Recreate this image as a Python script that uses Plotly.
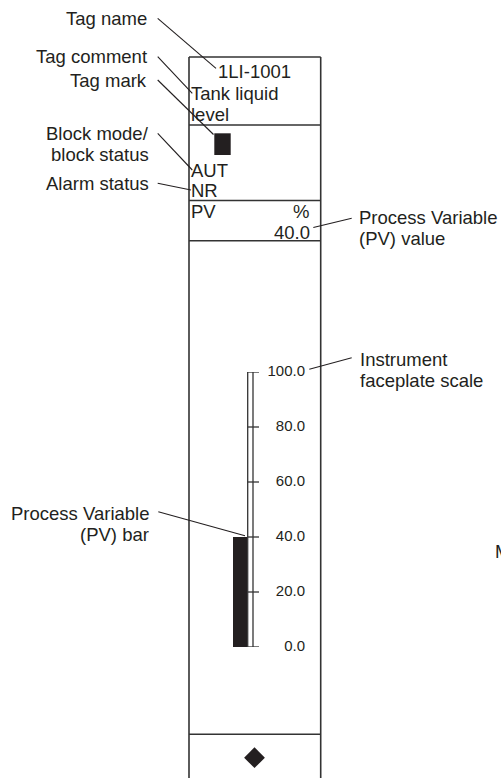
import plotly.graph_objects as go

# ---- data ----
scale_ticks = [0, 20, 40, 60, 80, 100]
scale_labels = ["0.0", "20.0", "40.0", "60.0", "80.0", "100.0"]
pv_value = [40.0]
pv_text = "40.0"
pv_unit = "%"
tag_name = "1LI-1001"
tag_comment = ["Tank liquid", "level"]
block_mode = "AUT"
alarm_status = "NR"

W, H = 501, 778
INK = "#231f20"
LINE = "#333333"
FONT = "Liberation Sans, Arial, sans-serif"
FS = 18.5

fig = go.Figure()

# PV bar on the scale axis
fig.add_trace(go.Bar(x=[240], y=pv_value, base=0, width=14, marker_color=INK,
                     marker_line_width=0, xaxis="x", yaxis="y2", showlegend=False,
                     hoverinfo="skip"))

# scale double line
fig.add_trace(go.Scatter(x=[247.7, 247.7, None, 253, 253],
                         y=[scale_ticks[0], scale_ticks[-1], None, scale_ticks[0], scale_ticks[-1]],
                         mode="lines", line=dict(color=LINE, width=1.3), cliponaxis=False,
                         xaxis="x", yaxis="y2", showlegend=False, hoverinfo="skip"))
# scale ticks
tx, ty = [], []
for v in scale_ticks:
    tx += [247.7, 259, None]
    ty += [v, v, None]
fig.add_trace(go.Scatter(x=tx, y=ty, mode="lines", line=dict(color=LINE, width=1.3),
                         cliponaxis=False,
                         xaxis="x", yaxis="y2", showlegend=False, hoverinfo="skip"))
# tick labels
fig.add_trace(go.Scatter(x=[305] * len(scale_ticks), y=scale_ticks, text=scale_labels,
                         mode="text", textposition="middle left", cliponaxis=False,
                         textfont=dict(family=FONT, size=15, color=INK),
                         xaxis="x", yaxis="y2", showlegend=False, hoverinfo="skip"))

# diamond at bottom
fig.add_trace(go.Scatter(x=[254.5], y=[757.7], mode="markers",
                         marker=dict(symbol="diamond", size=16, color=INK, line_width=0),
                         xaxis="x", yaxis="y", showlegend=False, hoverinfo="skip"))

shapes = []
def hline(y, x0=189, x1=320.7):
    shapes.append(dict(type="line", xref="x", yref="y", x0=x0, x1=x1, y0=y, y1=y,
                       line=dict(color=LINE, width=1.6)))
def seg(x0, y0, x1, y1):
    shapes.append(dict(type="line", xref="x", yref="y", x0=x0, y0=y0, x1=x1, y1=y1,
                       line=dict(color=INK, width=1.1)))

# panel outline
shapes.append(dict(type="line", xref="x", yref="y", x0=189, x1=189, y0=57, y1=790,
                   line=dict(color=LINE, width=1.6)))
shapes.append(dict(type="line", xref="x", yref="y", x0=320.7, x1=320.7, y0=57, y1=790,
                   line=dict(color=LINE, width=1.6)))
hline(57)
hline(125)
hline(200.5)
hline(240.7)
hline(734.3)

# tag mark
shapes.append(dict(type="rect", xref="x", yref="y", x0=214.3, x1=230.7, y0=133.3, y1=155,
                   fillcolor=INK, line=dict(width=0)))

# leader lines
seg(157.7, 18.3, 216, 68.3)      # Tag name
seg(157.7, 56.7, 192.3, 93.3)    # Tag comment
seg(157.7, 80, 213.5, 134.5)     # Tag mark
seg(157.7, 133.3, 192.3, 170)    # Block mode
seg(157.7, 183.3, 191, 190)      # Alarm status
seg(313.3, 227.5, 351.7, 218.3)  # PV value
seg(309.3, 369.3, 351.7, 357.7)  # faceplate scale
seg(158.3, 511.7, 245, 535.7)    # PV bar

ann = []
def txt(s, x, y, xa="left", size=FS):
    ann.append(dict(text=s, x=x, y=y, xref="x", yref="y", xanchor=xa, yanchor="middle",
                    showarrow=False, font=dict(family=FONT, size=size, color=INK),
                    borderpad=0))

# callout labels (left)
txt("Tag name", 148, 18.5, "right")
txt("Tag comment", 148, 56.5, "right")
txt("Tag mark", 148, 80.5, "right")
txt("Block mode/", 150, 133.5, "right")
txt("block status", 150, 154.5, "right")
txt("Alarm status", 150, 183.5, "right")
txt("Process Variable", 150, 513, "right")
txt("(PV) bar", 150, 534, "right")
# callout labels (right)
txt("Process Variable", 358, 217.5)
txt("(PV) value", 358, 238.5)
txt("Instrument", 359, 359)
txt("faceplate scale", 359, 380)
txt("M", 494, 551)

# panel texts
txt(tag_name, 217, 71.5)
txt(tag_comment[0], 190, 93)
txt(tag_comment[1], 190, 114)
txt(block_mode, 190, 170)
txt(alarm_status, 190, 190.5)
txt("PV", 190, 211.5)
txt(pv_unit, 310, 211.5, "right")
txt(pv_text, 310.5, 232, "right")

fig.update_layout(
    width=W, height=H,
    margin=dict(l=0, r=0, t=0, b=0),
    paper_bgcolor="white", plot_bgcolor="rgba(0,0,0,0)",
    xaxis=dict(range=[0, W], domain=[0, 1], visible=False, fixedrange=True),
    yaxis=dict(range=[H, 0], domain=[0, 1], visible=False, fixedrange=True),
    yaxis2=dict(range=[0, 100], domain=[(H - 647) / H, (H - 372) / H], anchor="x",
                visible=False, fixedrange=True),
    shapes=shapes, annotations=ann,
    bargap=0,
)

fig.write_html("out.html", config={"displayModeBar": False},
               post_script="document.body.style.margin='0';document.body.style.overflow='hidden';")
